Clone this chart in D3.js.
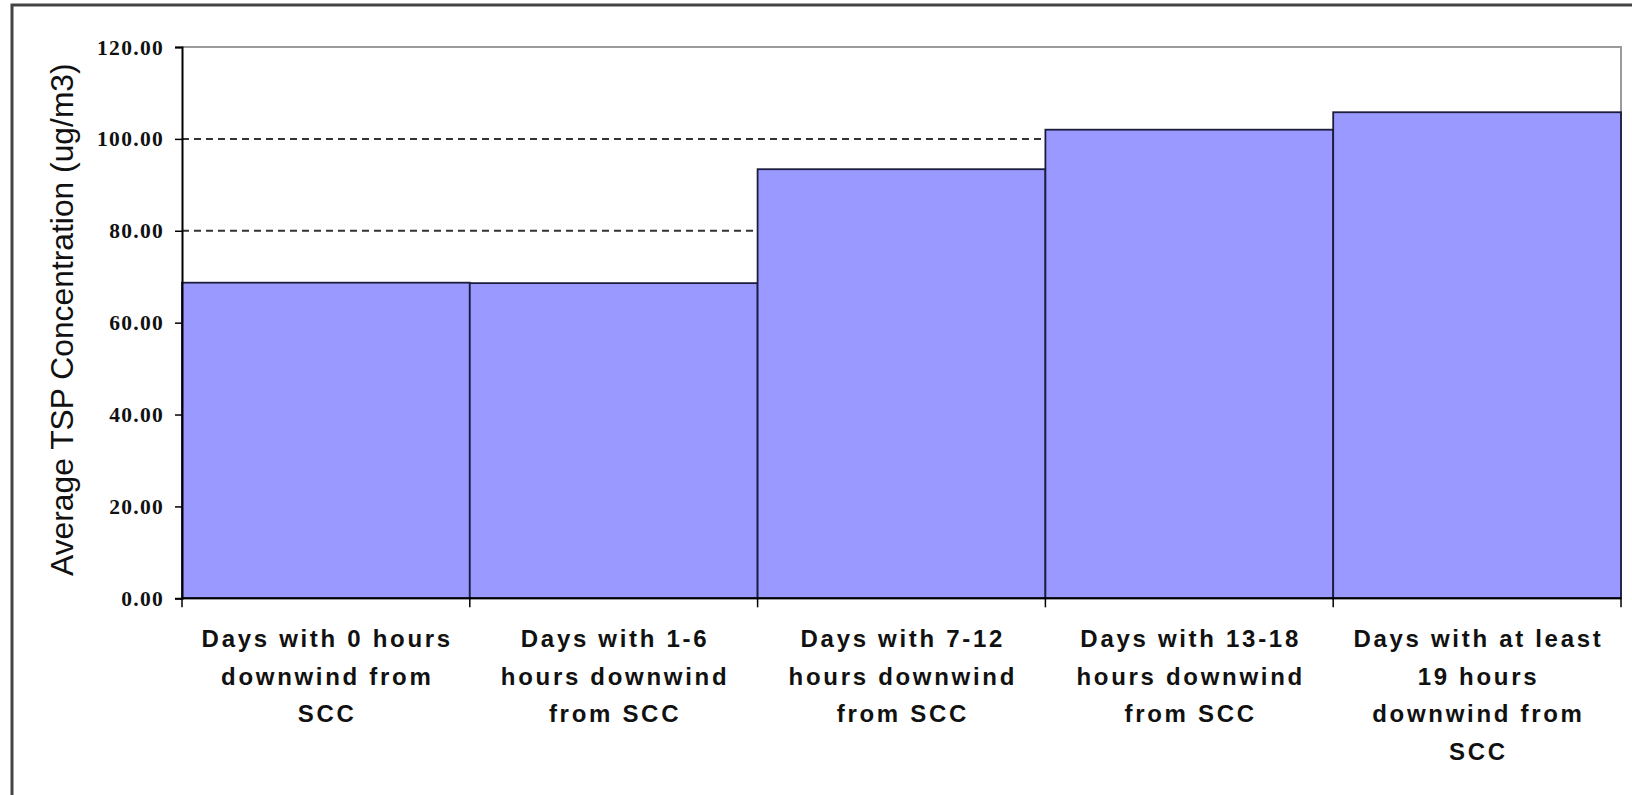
<!DOCTYPE html>
<html>
<head>
<meta charset="utf-8">
<script src="https://cdn.jsdelivr.net/npm/d3@7"></script>
<style>
  html, body { margin: 0; padding: 0; background: #fff; }
  svg { display: block; }
</style>
</head>
<body>
<svg id="chart" width="1632" height="795"></svg>
<script>
// ---- data ----
const categories = ["c0", "c1-6", "c7-12", "c13-18", "c19+"];
const categoryLines = [
  ["Days with 0 hours", "downwind from", "SCC"],
  ["Days with 1-6", "hours downwind", "from SCC"],
  ["Days with 7-12", "hours downwind", "from SCC"],
  ["Days with 13-18", "hours downwind", "from SCC"],
  ["Days with at least", "19 hours", "downwind from", "SCC"]
];
const values = [68.7, 68.6, 93.4, 102.0, 105.8];
const yTicks = [0, 20, 40, 60, 80, 100, 120];
const yTitle = "Average TSP Concentration (ug/m3)";

(function () {
// ---- layout ----
const svg = d3.select("#chart");
const pLeft = 182, pRight = 1621, pTop = 47, pBottom = 598.3;

const x = d3.scaleBand().domain(categories).range([pLeft, pRight]).padding(0);
const y = d3.scaleLinear().domain([0, 120]).range([pBottom, pTop]);

// outer frame (partially clipped)
svg.append("path")
  .attr("d", `M12,800 V5 H1640`)
  .attr("fill", "none")
  .attr("stroke", "#444")
  .attr("stroke-width", 3);

// gridlines (dashed) behind bars
svg.append("g")
  .selectAll("line")
  .data(yTicks.filter(d => d > 0 && d < 120))
  .join("line")
  .attr("x1", pLeft).attr("x2", pRight)
  .attr("y1", d => y(d)).attr("y2", d => y(d))
  .attr("stroke", "#333")
  .attr("stroke-width", 2)
  .attr("stroke-dasharray", "7,5");

// plot border top/right (grey)
svg.append("path")
  .attr("d", `M${pLeft},${y(120)} H${pRight} V${pBottom}`)
  .attr("fill", "none")
  .attr("stroke", "#9a9a9a")
  .attr("stroke-width", 2);

// bars
svg.append("g")
  .selectAll("rect")
  .data(values)
  .join("rect")
  .attr("x", (d, i) => x(categories[i]))
  .attr("y", d => y(d))
  .attr("width", x.bandwidth())
  .attr("height", d => y(0) - y(d))
  .attr("fill", "#9999ff")
  .attr("stroke", "#1c1c3c")
  .attr("stroke-width", 1.8);

// y axis
const yAxis = d3.axisLeft(y)
  .tickValues(yTicks)
  .tickSize(7)
  .tickPadding(11)
  .tickFormat(d3.format(".2f"));
const gy = svg.append("g")
  .attr("transform", `translate(${pLeft},0)`)
  .call(yAxis);
gy.select(".domain").attr("stroke", "#000").attr("stroke-width", 2);
gy.selectAll(".tick line").attr("stroke", "#000").attr("stroke-width", 1.5);
gy.selectAll(".tick text")
  .attr("font-family", "'Liberation Serif', 'Times New Roman', serif")
  .attr("font-weight", "bold")
  .attr("font-size", "21.5px")
  .attr("letter-spacing", "1.3px")
  .attr("fill", "#111")
  .attr("dy", "0.33em");

// x axis
const boundaries = categories.map(c => x(c)).concat([pRight]);
const gx = svg.append("g");
gx.append("line")
  .attr("x1", pLeft).attr("x2", pRight)
  .attr("y1", pBottom).attr("y2", pBottom)
  .attr("stroke", "#000").attr("stroke-width", 2);
gx.selectAll("line.tick")
  .data(boundaries)
  .join("line")
  .attr("class", "tick")
  .attr("x1", d => d).attr("x2", d => d)
  .attr("y1", pBottom).attr("y2", pBottom + 9)
  .attr("stroke", "#000").attr("stroke-width", 1.5);

const ls = 2.7;
const labels = gx.selectAll("text.cat")
  .data(categories)
  .join("text")
  .attr("class", "cat")
  .attr("text-anchor", "middle")
  .attr("font-family", "'Liberation Sans', Arial, sans-serif")
  .attr("font-weight", "bold")
  .attr("font-size", "24px")
  .attr("letter-spacing", ls + "px")
  .attr("fill", "#111");
labels.each(function(c, i) {
  const cx = x(c) + x.bandwidth() / 2 + ls / 2;
  d3.select(this).selectAll("tspan")
    .data(categoryLines[i])
    .join("tspan")
    .attr("x", cx)
    .attr("y", (d, j) => 647 + j * 37.5)
    .text(d => d);
});

// y title
svg.append("text")
  .attr("transform", `translate(73,${(pTop + pBottom) / 2 - 3}) rotate(-90)`)
  .attr("text-anchor", "middle")
  .attr("font-family", "'Liberation Sans', Arial, sans-serif")
  .attr("font-size", "31.8px")
  .attr("fill", "#111")
  .text(yTitle);
})();
</script>
</body>
</html>
